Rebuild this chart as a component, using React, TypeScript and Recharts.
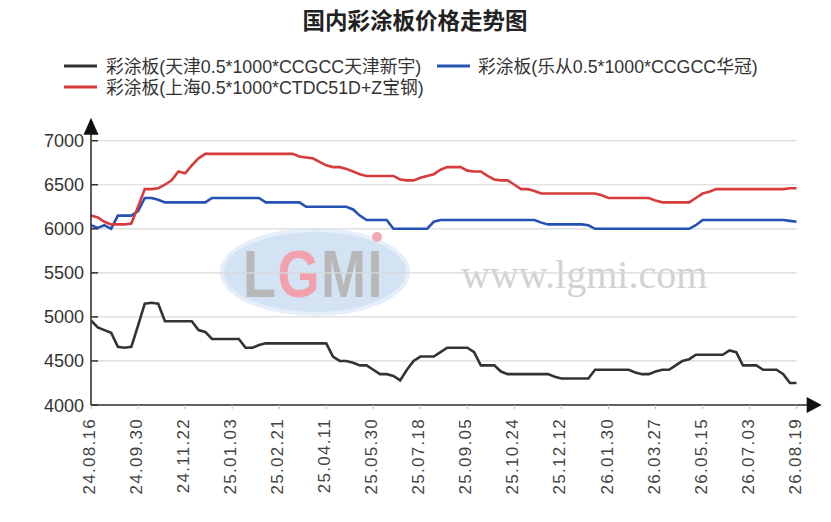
import React from "react";
import { LineChart, Line, XAxis, YAxis, CartesianGrid } from "recharts";

// ---------- data ----------
const tickLabels = [
  "24.08.16", "24.09.30", "24.11.22", "25.01.03", "25.02.21", "25.04.11",
  "25.05.30", "25.07.18", "25.09.05", "25.10.24", "25.12.12", "26.01.30",
  "26.03.27", "26.05.15", "26.07.03", "26.08.19",
];

const seriesNames = [
  "彩涂板(天津0.5*1000*CCGCC天津新宇)",
  "彩涂板(乐从0.5*1000*CCGCC华冠)",
  "彩涂板(上海0.5*1000*CTDC51D+Z宝钢)",
];

const yTicks = [4000, 4500, 5000, 5500, 6000, 6500, 7000];

// weekly samples (index 0 = 24.08.16, last = 26.08.19)
const tianjin = [
  4960, 4880, 4850, 4820, 4660, 4650, 4660, 4900, 5150, 5160,
  5150, 4950, 4950, 4950, 4950, 4950, 4850, 4830, 4750, 4750,
  4750, 4750, 4750, 4650, 4650, 4680, 4700, 4700, 4700, 4700,
  4700, 4700, 4700, 4700, 4700, 4700, 4550, 4500, 4500, 4480,
  4450, 4450, 4400, 4350, 4350, 4330, 4280, 4400, 4500, 4550,
  4550, 4550, 4600, 4650, 4650, 4650, 4650, 4600, 4450, 4450,
  4450, 4380, 4350, 4350, 4350, 4350, 4350, 4350, 4350, 4320,
  4300, 4300, 4300, 4300, 4300, 4400, 4400, 4400, 4400, 4400,
  4400, 4370, 4350, 4350, 4380, 4400, 4400, 4450, 4500, 4520,
  4570, 4570, 4570, 4570, 4570, 4620, 4600, 4450, 4450, 4450,
  4400, 4400, 4400, 4350, 4250, 4250,
];

const lecong = [
  6040, 6010, 6040, 6000, 6150, 6150, 6150, 6200, 6350, 6350,
  6330, 6300, 6300, 6300, 6300, 6300, 6300, 6300, 6350, 6350,
  6350, 6350, 6350, 6350, 6350, 6350, 6300, 6300, 6300, 6300,
  6300, 6300, 6250, 6250, 6250, 6250, 6250, 6250, 6250, 6220,
  6150, 6100, 6100, 6100, 6100, 6000, 6000, 6000, 6000, 6000,
  6000, 6080, 6100, 6100, 6100, 6100, 6100, 6100, 6100, 6100,
  6100, 6100, 6100, 6100, 6100, 6100, 6100, 6070, 6050, 6050,
  6050, 6050, 6050, 6050, 6040, 6000, 6000, 6000, 6000, 6000,
  6000, 6000, 6000, 6000, 6000, 6000, 6000, 6000, 6000, 6000,
  6040, 6100, 6100, 6100, 6100, 6100, 6100, 6100, 6100, 6100,
  6100, 6100, 6100, 6100, 6090, 6080,
];

const shanghai = [
  6150, 6130, 6080, 6050, 6050, 6050, 6060, 6250, 6450, 6450,
  6460, 6500, 6550, 6650, 6630, 6720, 6800, 6850, 6850, 6850,
  6850, 6850, 6850, 6850, 6850, 6850, 6850, 6850, 6850, 6850,
  6850, 6820, 6810, 6800, 6760, 6720, 6700, 6700, 6680, 6650,
  6620, 6600, 6600, 6600, 6600, 6600, 6560, 6550, 6550, 6580,
  6600, 6620, 6670, 6700, 6700, 6700, 6660, 6650, 6650, 6600,
  6560, 6550, 6550, 6500, 6450, 6450, 6430, 6400, 6400, 6400,
  6400, 6400, 6400, 6400, 6400, 6400, 6380, 6350, 6350, 6350,
  6350, 6350, 6350, 6350, 6320, 6300, 6300, 6300, 6300, 6300,
  6350, 6400, 6420, 6450, 6450, 6450, 6450, 6450, 6450, 6450,
  6450, 6450, 6450, 6450, 6460, 6460,
];

const colors = ["#333333", "#2352b2", "#d63c3c"];

const data = tianjin.map((v, i) => ({
  idx: i,
  tianjin: v,
  lecong: lecong[i],
  shanghai: shanghai[i],
}));

const STEP = (tianjin.length - 1) / (tickLabels.length - 1);
const xTicks = tickLabels.map((_, k) => k * STEP);

// ---------- layout ----------
const W = 831;
const H = 522;
const M = { top: 140.7, right: 34.3, bottom: 37, left: 31 };
const Y_W = 60;
const X_H = 80;
const PLOT_L = M.left + Y_W;
const PLOT_R = W - M.right;
const PLOT_T = M.top;
const PLOT_B = H - M.bottom - X_H;

const LATIN = "'Liberation Sans', Arial, 'Noto Sans CJK SC', sans-serif";

const XTick = (props: any) => {
  const { x, y, payload } = props;
  const label = tickLabels[Math.round(payload.value / STEP)];
  return (
    <text
      transform={`translate(${x - 1.5},${y + 5}) rotate(-90)`}
      textAnchor="end"
      dominantBaseline="central"
      fontSize={17}
      letterSpacing={1.3}
      fill="#444"
      fontFamily={LATIN}
    >
      {label}
    </text>
  );
};

const YTick = (props: any) => {
  const { x, y, payload } = props;
  return (
    <g>
      <line x1={x + 7} x2={x + 14} y1={y} y2={y} stroke="#333" strokeWidth={1.5} />
      <text x={x} y={y + 6.5} textAnchor="end" fontSize={18} fill="#333" fontFamily={LATIN}>
        {payload.value}
      </text>
    </g>
  );
};

const legendItems = [
  { name: seriesNames[0], color: colors[0], sx: 64, tx: 106, row: 0 },
  { name: seriesNames[1], color: colors[1], sx: 437, tx: 478, row: 0 },
  { name: seriesNames[2], color: colors[2], sx: 64, tx: 106, row: 1 },
];

const logoLetters = [
  { ch: "L", x: 243, fill: "#b8b8b8" },
  { ch: "G", x: 277.5, fill: "#f2a0ac" },
  { ch: "M", x: 321, fill: "#b8b8b8" },
  { ch: "I", x: 367.5, fill: "#b8b8b8" },
];

export default function App() {
  return (
    <div style={{ position: "absolute", left: 0, top: 0, width: W, height: H, background: "#fff" }}>
      {/* watermark */}
      <svg style={{ position: "absolute", left: 0, top: 0 }} width={W} height={H}>
        <ellipse cx={315} cy={272} rx={93} ry={42} fill="#d3e3f4" stroke="#e6eff9" strokeWidth={4} />
        {logoLetters.map((l) => (
          <text
            key={l.ch}
            transform={`translate(${l.x},297) scale(1,1.25)`}
            fontSize={54}
            fontWeight="bold"
            fill={l.fill}
            fontFamily="'Liberation Sans', Arial, sans-serif"
          >
            {l.ch}
          </text>
        ))}
        <circle cx={377} cy={237} r={5} fill="#f3a8b3" />
        <text x={461} y={288} fontSize={40} fontFamily="'Liberation Serif', 'DejaVu Serif', serif" fill="#d2d2d2">
          www.lgmi.com
        </text>
      </svg>

      <div style={{ position: "absolute", left: 0, top: 0 }}>
        <LineChart width={W} height={H} data={data} margin={M}>
          <CartesianGrid vertical={false} stroke="#d9d9d9" strokeWidth={1.2} />
          <XAxis
            dataKey="idx"
            type="number"
            domain={[0, tianjin.length - 1]}
            ticks={xTicks}
            interval={0}
            height={X_H}
            tick={<XTick />}
            tickSize={4}
            tickMargin={4}
            tickLine={{ stroke: "#bbbbbb" }}
            axisLine={{ stroke: "#333", strokeWidth: 1.6 }}
            allowDataOverflow
          />
          <YAxis
            type="number"
            domain={[4000, 7000]}
            ticks={yTicks}
            interval={0}
            width={Y_W}
            tick={<YTick />}
            tickSize={0}
            tickMargin={7}
            tickLine={false}
            axisLine={{ stroke: "#333", strokeWidth: 1.6 }}
            allowDataOverflow
          />
          <Line type="linear" dataKey="tianjin" name={seriesNames[0]} stroke={colors[0]} strokeWidth={2.6} dot={false} isAnimationActive={false} />
          <Line type="linear" dataKey="lecong" name={seriesNames[1]} stroke={colors[1]} strokeWidth={2.6} dot={false} isAnimationActive={false} />
          <Line type="linear" dataKey="shanghai" name={seriesNames[2]} stroke={colors[2]} strokeWidth={2.6} dot={false} isAnimationActive={false} />
        </LineChart>
      </div>

      {/* title, legend, axis arrows */}
      <svg style={{ position: "absolute", left: 0, top: 0, pointerEvents: "none" }} width={W} height={H}>
        <text
          x={415}
          y={28.5}
          textAnchor="middle"
          fontSize={22.5}
          fontWeight="bold"
          fill="#222"
          fontFamily="'Noto Sans CJK SC', sans-serif"
        >
          国内彩涂板价格走势图
        </text>
        {legendItems.map((it) => {
          const cy = 66 + it.row * 21;
          return (
            <g key={it.name}>
              <line x1={it.sx} x2={it.sx + 33} y1={cy} y2={cy} stroke={it.color} strokeWidth={3} />
              <text x={it.tx} y={cy + 6.6} fontSize={17.8} fill="#333" fontFamily={LATIN}>
                {it.name}
              </text>
            </g>
          );
        })}
        <line x1={PLOT_L} x2={PLOT_L} y1={PLOT_T} y2={PLOT_T - 8} stroke="#333" strokeWidth={1.6} />
        <polygon
          points={`${PLOT_L - 7.5},${PLOT_T - 6} ${PLOT_L + 7.5},${PLOT_T - 6} ${PLOT_L},${PLOT_T - 23}`}
          fill="#111"
        />
        <line x1={PLOT_R} x2={PLOT_R + 12} y1={PLOT_B} y2={PLOT_B} stroke="#333" strokeWidth={1.6} />
        <polygon
          points={`${PLOT_R + 10},${PLOT_B - 8} ${PLOT_R + 10},${PLOT_B + 8} ${PLOT_R + 25},${PLOT_B}`}
          fill="#111"
        />
      </svg>
    </div>
  );
}
